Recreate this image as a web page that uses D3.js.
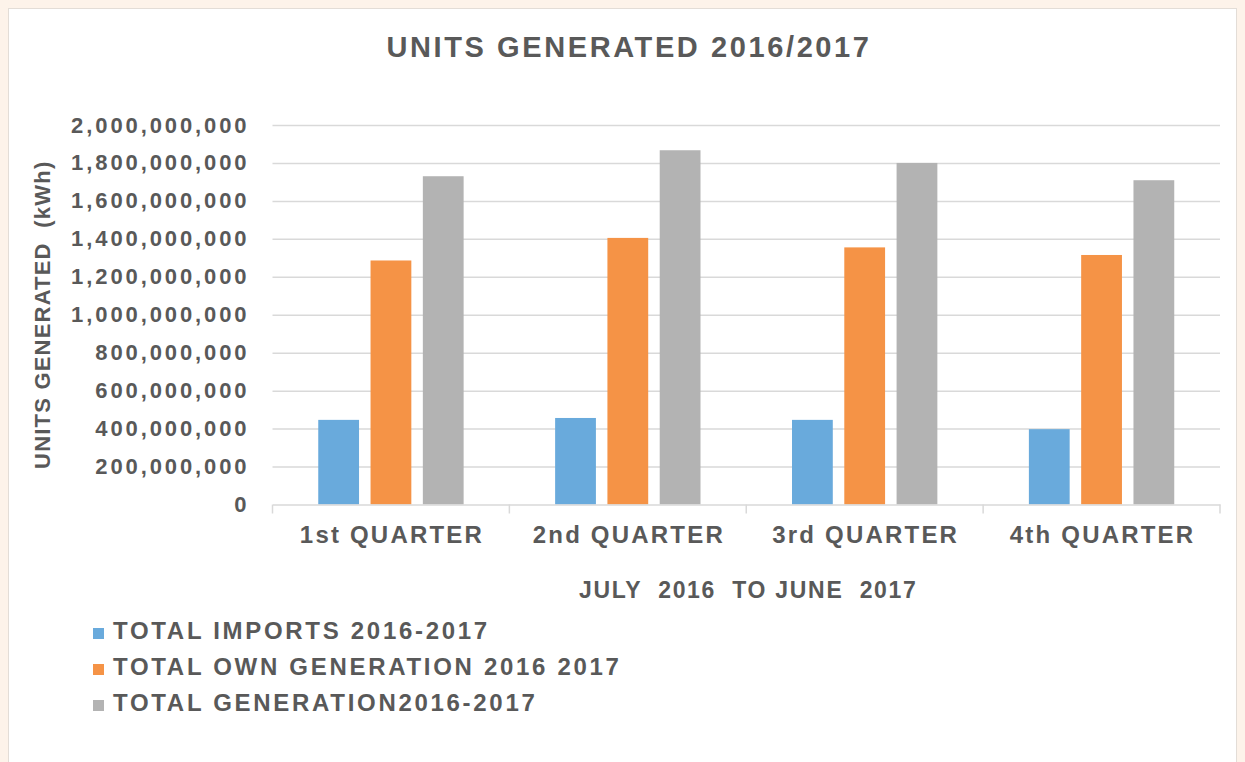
<!DOCTYPE html>
<html>
<head>
<meta charset="utf-8">
<script src="https://cdn.jsdelivr.net/npm/d3@7"></script>
<style>
  body { margin: 0; background: #fdf3ea; }
  svg { display: block; font-family: "Liberation Sans", Arial, sans-serif; font-weight: bold; }
  .grid line { stroke: #d9d9d9; stroke-width: 1.5; }
  .grid .domain { display: none; }
</style>
</head>
<body>
<div id="container"></div>
<script>
/* CONSTANTS AND GLOBALS */
const width = 1245,
  height = 762,
  margin = {top: 125, right: 25, bottom: 257.5, left: 272.5};

/* DATA */
const quarters = ["1st QUARTER", "2nd QUARTER", "3rd QUARTER", "4th QUARTER"];
const seriesNames = ["TOTAL IMPORTS 2016-2017", "TOTAL OWN GENERATION 2016 2017", "TOTAL GENERATION2016-2017"];
const imports = [446e6, 456e6, 446e6, 397e6];
const ownGeneration = [1286e6, 1405e6, 1355e6, 1315e6];
const totalGeneration = [1730e6, 1867e6, 1800e6, 1709e6];
const yTicks = [0, 2e8, 4e8, 6e8, 8e8, 1e9, 1.2e9, 1.4e9, 1.6e9, 1.8e9, 2e9];
const colors = ["#69aadc", "#f59346", "#b3b3b3"];
const textColor = "#595959";

const series = [imports, ownGeneration, totalGeneration];
const table = quarters.map((q, i) => ({
  quarter: q,
  values: seriesNames.map((s, j) => ({key: s, value: series[j][i]}))
}));

// SCALES
const x0 = d3.scaleBand()
  .domain(quarters)
  .range([margin.left, width - margin.right])
  .padding(0);

const x1 = d3.scaleBand()
  .domain(seriesNames)
  .range([0, x0.bandwidth()])
  .paddingInner(0.22)
  .paddingOuter(0.875);

const y = d3.scaleLinear()
  .domain([0, 2e9])
  .range([height - margin.bottom, margin.top]);

const color = d3.scaleOrdinal().domain(seriesNames).range(colors);

// CREATE SVG ELEMENT
const svg = d3.select("#container")
  .append("svg")
  .attr("width", width)
  .attr("height", height);

// chart frame
svg.append("rect")
  .attr("x", 8.5).attr("y", 8.5)
  .attr("width", 1228).attr("height", 770)
  .attr("fill", "#ffffff")
  .attr("stroke", "#e3ddd7");

// title
svg.append("text")
  .attr("x", 629).attr("y", 57)
  .attr("text-anchor", "middle")
  .attr("fill", textColor)
  .style("font-size", "29px")
  .style("letter-spacing", "2.6px")
  .text("UNITS GENERATED 2016/2017");

// gridlines + y labels
const yAxis = svg.append("g")
  .attr("class", "grid")
  .attr("transform", `translate(${margin.left},0)`)
  .call(d3.axisLeft(y)
    .tickValues(yTicks)
    .tickSize(-(width - margin.left - margin.right))
    .tickFormat(d3.format(",")));

yAxis.selectAll("line").filter(d => d === 0).remove();

yAxis.selectAll("text")
  .attr("x", -23)
  .attr("fill", textColor)
  .style("font-size", "22px")
  .style("letter-spacing", "2.9px");

// bars
const groups = svg.append("g")
  .selectAll("g")
  .data(table)
  .join("g")
  .attr("transform", d => `translate(${x0(d.quarter)},0)`);

groups.selectAll("rect")
  .data(d => d.values)
  .join("rect")
  .attr("x", d => x1(d.key))
  .attr("y", d => y(d.value))
  .attr("width", x1.bandwidth())
  .attr("height", d => y(0) - y(d.value))
  .attr("fill", d => color(d.key));

// x axis
const xAxis = svg.append("g")
  .attr("transform", `translate(0,${y(0)})`)
  .call(d3.axisBottom(x0).tickSize(0).tickSizeOuter(0));

xAxis.select(".domain")
  .attr("stroke", "#d9d9d9")
  .attr("stroke-width", 1.5);

xAxis.selectAll("text")
  .attr("y", 38)
  .attr("dy", 0)
  .attr("dx", 1)
  .attr("fill", textColor)
  .style("font-size", "24px")
  .style("letter-spacing", "2.2px");

// category separators on the axis
const bounds = quarters.map(q => x0(q)).concat([x0.range()[1]]);
svg.append("g")
  .selectAll("line")
  .data(bounds)
  .join("line")
  .attr("x1", d => d).attr("x2", d => d)
  .attr("y1", y(0)).attr("y2", y(0) + 9)
  .attr("stroke", "#d9d9d9")
  .attr("stroke-width", 1.5);

// axis titles
svg.append("text")
  .attr("x", (x0.range()[0] + x0.range()[1]) / 2 + 2)
  .attr("y", 598)
  .attr("text-anchor", "middle")
  .attr("fill", textColor)
  .style("font-size", "23px")
  .style("letter-spacing", "1.7px")
  .style("white-space", "pre")
  .text("JULY  2016  TO JUNE  2017");

svg.append("text")
  .attr("transform", `translate(50,${(y(0) + y(2e9)) / 2}) rotate(-90)`)
  .attr("text-anchor", "middle")
  .attr("fill", textColor)
  .style("font-size", "22px")
  .style("letter-spacing", "1.2px")
  .style("white-space", "pre")
  .text("UNITS GENERATED  (kWh)");

// legend
const legend = svg.append("g")
  .selectAll("g")
  .data(seriesNames)
  .join("g")
  .attr("transform", (d, i) => `translate(93,${639 + i * 36})`);

legend.append("rect")
  .attr("x", 0).attr("y", -11)
  .attr("width", 11).attr("height", 11)
  .attr("fill", d => color(d));

legend.append("text")
  .attr("x", 20)
  .attr("y", 0)
  .attr("fill", textColor)
  .style("font-size", "24px")
  .style("letter-spacing", "2.7px")
  .text(d => d);
</script>
</body>
</html>
